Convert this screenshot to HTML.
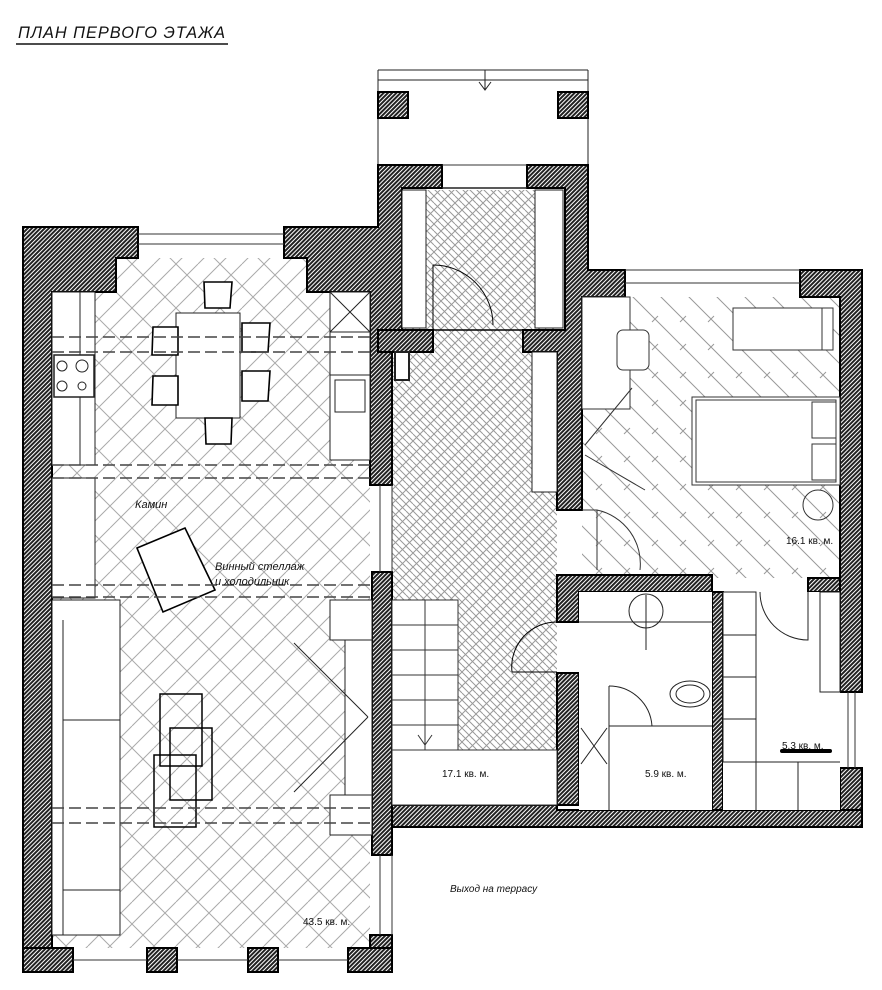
<!DOCTYPE html>
<html><head><meta charset="utf-8"><style>
html,body{margin:0;padding:0;background:#fff}
svg{display:block}
text{font-family:"Liberation Sans",sans-serif}
</style></head><body>
<svg width="882" height="990" viewBox="0 0 882 990" xmlns="http://www.w3.org/2000/svg">
<defs>
<pattern id="h" width="3" height="3" patternUnits="userSpaceOnUse" patternTransform="rotate(45)">
<rect width="3" height="3" fill="#fff"/><rect width="2" height="3" fill="#222"/></pattern>
<pattern id="hb" width="44" height="44" patternUnits="userSpaceOnUse">
<path d="M0 22 L22 0 M22 44 L44 22 M0 0 L44 44 M-22 22 L22 66 M22 -22 L66 22 M0 44 L22 22 M22 22 L44 0" stroke="#aaa" stroke-width="1" fill="none"/></pattern>
<pattern id="hw" width="14" height="14" patternUnits="userSpaceOnUse">
<path d="M0 0 L14 14 M14 0 L0 14 M7 0 L14 7 M0 7 L7 14" stroke="#999" stroke-width="1" fill="none"/></pattern>
<pattern id="bd" width="28" height="28" patternUnits="userSpaceOnUse">
<path d="M0 0 L28 28 M-14 14 L14 42 M14 -14 L42 14 M8 14 L14 8" stroke="#999" stroke-width="1" fill="none"/></pattern>
</defs>

<text x="18" y="38" font-size="17" font-style="italic" fill="#111" letter-spacing="1" textLength="208" lengthAdjust="spacingAndGlyphs">ПЛАН ПЕРВОГО ЭТАЖА</text>
<line x1="16" y1="44" x2="228" y2="44" stroke="#111" stroke-width="1.5"/>

<rect x="52" y="258" width="318" height="690" fill="url(#hb)"/>
<rect x="392" y="190" width="165" height="615" fill="url(#hw)"/>
<rect x="582" y="297" width="258" height="281" fill="url(#bd)"/>

<g stroke="#222" fill="none" stroke-width="1">
<line x1="378" y1="70" x2="588" y2="70"/><line x1="378" y1="80" x2="588" y2="80"/>
<line x1="378" y1="70" x2="378" y2="165"/><line x1="588" y1="70" x2="588" y2="165"/>
<line x1="485" y1="70" x2="485" y2="90"/><path d="M479 82 L485 90 L491 82"/>
</g>
<rect x="378" y="92" width="30" height="26" fill="url(#h)" stroke="#000" stroke-width="2"/>
<rect x="558" y="92" width="30" height="26" fill="url(#h)" stroke="#000" stroke-width="2"/>

<g fill="url(#h)" stroke="#000" stroke-width="2">
<path d="M23 227 H138 V258 H116 V292 H52 V948 H23 Z"/>
<path d="M284 227 H378 V165 H442 V188 H402 V330 H392 V485 H370 V292 H307 V258 H284 Z"/>
<rect x="372" y="572" width="20" height="283"/>
<rect x="370" y="935" width="22" height="37"/>
<rect x="23" y="948" width="50" height="24"/>
<rect x="147" y="948" width="30" height="24"/>
<rect x="248" y="948" width="30" height="24"/>
<rect x="348" y="948" width="44" height="24"/>
<path d="M527 165 H588 V270 H625 V297 H582 V510 H557 V352 H523 V330 H565 V188 H527 Z"/>
<rect x="378" y="330" width="55" height="22"/>
<path d="M800 270 H862 V692 H840 V297 H800 Z"/>
<rect x="840" y="768" width="22" height="59"/>
<path d="M557 575 H712 V592 H579 V622 H557 Z"/>
<rect x="808" y="578" width="32" height="14"/>
<path d="M557 673 H579 V805 H392 V827 H862 V810 H557 Z"/>
<rect x="712" y="592" width="11" height="218"/>
<rect x="579" y="728" width="30" height="38"/>
</g>
<rect x="402" y="188" width="163" height="142" fill="none" stroke="#000" stroke-width="1.5"/>
<g fill="#fff" stroke="#222" stroke-width="1">
<rect x="402" y="190" width="24" height="138"/><rect x="535" y="190" width="28" height="138"/>
<rect x="532" y="352" width="25" height="140"/>
<rect x="395" y="352" width="14" height="28" stroke-width="2"/>
</g>
<g stroke="#333" stroke-width="1" fill="none">
<line x1="138" y1="234" x2="284" y2="234"/><line x1="138" y1="244" x2="284" y2="244"/>
<line x1="625" y1="270" x2="800" y2="270"/><line x1="625" y1="283" x2="800" y2="283"/>
<line x1="442" y1="165" x2="527" y2="165"/><line x1="442" y1="188" x2="527" y2="188"/>
<line x1="380" y1="485" x2="380" y2="572"/><line x1="392" y1="485" x2="392" y2="572"/>
<line x1="380" y1="855" x2="380" y2="935"/><line x1="392" y1="855" x2="392" y2="935"/>
<line x1="73" y1="960" x2="147" y2="960"/><line x1="177" y1="960" x2="248" y2="960"/><line x1="278" y1="960" x2="348" y2="960"/>
<line x1="848" y1="692" x2="848" y2="768"/><line x1="855" y1="692" x2="855" y2="768"/>
</g>

<g stroke="#222" stroke-width="1" fill="#fff">
<rect x="52" y="292" width="43" height="173"/><line x1="80" y1="292" x2="80" y2="465"/>
<rect x="54" y="355" width="40" height="42" stroke-width="1.5"/>
<circle cx="62" cy="366" r="5" fill="none"/><circle cx="82" cy="366" r="6" fill="none"/><circle cx="62" cy="386" r="5" fill="none"/><circle cx="82" cy="386" r="4" fill="none"/>
<rect x="330" y="292" width="40" height="168"/><path d="M330 292 L370 332 M370 292 L330 332 M330 332 H370 M330 375 H370" fill="none"/>
<rect x="335" y="380" width="30" height="32" fill="none"/>
<rect x="52" y="478" width="43" height="120"/>
<rect x="176" y="313" width="64" height="105"/>
</g>
<g stroke="#000" stroke-width="1.6" fill="#fff">
<path d="M204 282 H232 L230 308 H205 Z"/><path d="M205 418 H232 L231 444 H206 Z"/>
<path d="M153 327 H178 V355 H152 Z"/><path d="M153 376 H178 V405 H152 Z"/>
<path d="M242 323 H270 L268 352 H242 Z"/><path d="M242 371 H270 L268 401 H242 Z"/>
<path d="M137 548 L185 528 L215 590 L163 612 Z"/>
</g>
<g stroke="#222" stroke-width="1" fill="#fff">
<rect x="52" y="600" width="68" height="335"/><line x1="63" y1="620" x2="63" y2="935"/>
<line x1="63" y1="720" x2="120" y2="720"/><line x1="63" y1="890" x2="120" y2="890"/>
<rect x="330" y="600" width="42" height="40"/><rect x="345" y="640" width="27" height="155"/>
<rect x="330" y="795" width="42" height="40"/>
<line x1="294" y1="643" x2="368" y2="717"/><line x1="368" y1="717" x2="294" y2="792"/>
</g>
<g stroke="#000" stroke-width="1.5" fill="none">
<rect x="160" y="694" width="42" height="72"/><rect x="170" y="728" width="42" height="72"/><rect x="154" y="755" width="42" height="72"/>
</g>
<g stroke="#444" stroke-width="1.5" stroke-dasharray="12 5" fill="none">
<line x1="52" y1="337" x2="370" y2="337"/><line x1="52" y1="352" x2="370" y2="352"/>
<line x1="52" y1="465" x2="370" y2="465"/><line x1="52" y1="478" x2="370" y2="478"/>
<line x1="52" y1="585" x2="370" y2="585"/><line x1="52" y1="597" x2="370" y2="597"/>
<line x1="52" y1="808" x2="370" y2="808"/><line x1="52" y1="823" x2="370" y2="823"/>
</g>
<text x="135" y="508" font-size="11" font-style="italic" fill="#111">Камин</text>
<text x="215" y="570" font-size="11" font-style="italic" fill="#111">Винный стеллаж</text>
<text x="215" y="585" font-size="11" font-style="italic" fill="#111">и холодильник</text>

<path d="M433 265 A60 60 0 0 1 493 325" stroke="#000" fill="none"/>
<line x1="433" y1="265" x2="433" y2="330" stroke="#000"/>
<g stroke="#333" stroke-width="1" fill="#fff">
<rect x="392" y="600" width="66" height="150"/>
<line x1="425" y1="600" x2="425" y2="750"/>
<line x1="392" y1="625" x2="458" y2="625"/><line x1="392" y1="650" x2="458" y2="650"/><line x1="392" y1="675" x2="458" y2="675"/><line x1="392" y1="700" x2="458" y2="700"/><line x1="392" y1="725" x2="458" y2="725"/>
<path d="M418 735 L425 745 L432 735" fill="none"/>
<rect x="392" y="750" width="165" height="55"/>
</g>
<path d="M512 672 A45 45 0 0 1 557 622" stroke="#000" fill="none"/>
<line x1="512" y1="672" x2="557" y2="672" stroke="#000"/>
<g stroke="#333" stroke-width="1" fill="#fff">
<rect x="582" y="297" width="48" height="112"/>
<rect x="617" y="330" width="32" height="40" rx="6"/>
<rect x="733" y="308" width="100" height="42"/><line x1="822" y1="308" x2="822" y2="350"/>
<rect x="692" y="397" width="148" height="88"/><rect x="696" y="400" width="140" height="82"/>
<rect x="812" y="402" width="24" height="36"/><rect x="812" y="444" width="24" height="36"/>
<circle cx="818" cy="505" r="15" fill="none"/>
<path d="M582 510 H597 A55 55 0 0 1 640 570 M597 510 V570" fill="none"/>
<path d="M585 445 L632 388 M585 455 L645 490" fill="none"/>
</g>
<text x="786" y="544" font-size="10" fill="#111">16.1 кв. м.</text>
<g stroke="#222" stroke-width="1" fill="#fff">
<rect x="579" y="592" width="133" height="218" stroke="none"/>
<line x1="579" y1="622" x2="712" y2="622"/>
<circle cx="646" cy="611" r="17" fill="none"/><line x1="646" y1="595" x2="646" y2="650"/>
<ellipse cx="690" cy="694" rx="20" ry="13" fill="none"/><ellipse cx="690" cy="694" rx="14" ry="9" fill="none"/>
<line x1="609" y1="726" x2="712" y2="726"/><line x1="609" y1="686" x2="609" y2="810"/>
<path d="M609 686 A43 43 0 0 1 652 726" fill="none"/>
<path d="M581 728 L607 764 M607 728 L581 764" fill="none"/>
</g>
<g stroke="#222" stroke-width="1" fill="#fff">
<rect x="723" y="592" width="117" height="218" stroke="none"/>
<rect x="723" y="592" width="33" height="170" fill="none"/>
<line x1="723" y1="635" x2="756" y2="635"/><line x1="723" y1="677" x2="756" y2="677"/><line x1="723" y1="719" x2="756" y2="719"/>
<path d="M756 762 H840 M798 762 V810 M756 762 V810" fill="none"/>
<rect x="820" y="592" width="20" height="100" fill="none"/>
<path d="M760 592 A48 48 0 0 0 808 640 V592" fill="none"/>
</g>
<line x1="782" y1="751" x2="830" y2="751" stroke="#000" stroke-width="4" stroke-linecap="round"/>
<text x="782" y="749" font-size="10" fill="#111">5.3 кв. м.</text>
<text x="645" y="777" font-size="10" fill="#111">5.9 кв. м.</text>
<text x="442" y="777" font-size="10" fill="#111">17.1 кв. м.</text>
<text x="303" y="925" font-size="10" fill="#111">43.5 кв. м.</text>
<text x="450" y="892" font-size="10" font-style="italic" fill="#111">Выход на террасу</text>
</svg>
</body></html>
